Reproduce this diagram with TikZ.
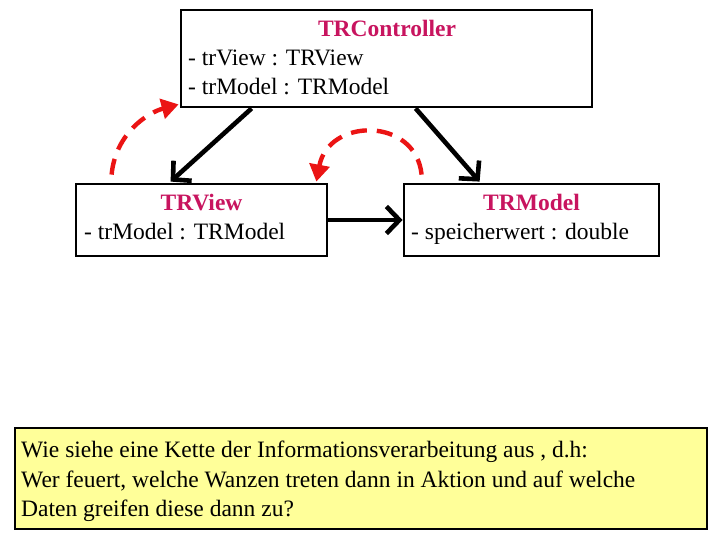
\documentclass[tikz,border=0pt]{standalone}
\usepackage{fontspec}
\setmainfont{Liberation Serif}
\usetikzlibrary{arrows.meta,calc}
\definecolor{titlecol}{RGB}{200,20,95}
\definecolor{notefill}{RGB}{255,255,153}
\definecolor{dashred}{RGB}{235,20,20}
\begin{document}
\begin{tikzpicture}[x=1pt,y=-1pt,
  umlbox/.style={draw=black,line width=2.8pt,fill=white,inner sep=0pt,rectangle},
  notebox/.style={draw=black,line width=1.2pt,fill=notefill,inner sep=0pt,rectangle},
  txt/.style={inner sep=0pt,anchor=base west,font=\fontsize{23.5}{28}\selectfont},
  ttl/.style={inner sep=0pt,anchor=base,font=\fontsize{23.5}{28}\selectfont\bfseries,text=titlecol},
  assoc/.style={line width=4.6pt,-{Straight Barb[length=13pt,width=27pt,line width=4.6pt]}},
  call/.style={line width=4.4pt,draw=dashred,dash pattern=on 16pt off 10pt,
    -{Triangle[length=17pt,width=20pt,fill=dashred]}}]
\useasboundingbox (0,0) rectangle (720,540);
\fill[white] (0,0) rectangle (720,540);
% boxes
\node[umlbox,minimum width=411,minimum height=97] (ctrl) at (386.5,58.5) {};
\node[umlbox,minimum width=251,minimum height=72] (view) at (201.5,220) {};
\node[umlbox,minimum width=255,minimum height=72] (model) at (531.5,220) {};
\node[notebox,minimum width=692,minimum height=101] (note) at (361,478.5) {};
% texts
\node[ttl] (ctrlT) at (387,37) {TRController};
\node[txt] (ctrlA) at (188,66) {- trView : TRView};
\node[txt] (ctrlB) at (188,95) {- trModel : TRModel};
\node[ttl] (viewT) at (201.5,211) {TRView};
\node[txt] (viewA) at (84,240) {- trModel : TRModel};
\node[ttl] (modelT) at (531.5,211) {TRModel};
\node[txt] (modelA) at (411,240) {- speicherwert : double};
\node[txt] (n1) at (21,457) {Wie siehe eine Kette der Informationsverarbeitung aus , d.h:};
\node[txt] (n2) at (21,487) {Wer feuert, welche Wanzen treten dann in Aktion und auf welche};
\node[txt] (n3) at (21,516) {Daten greifen diese dann zu?};
% associations
\draw[assoc] ($(ctrl.south west)+(72,0)$) -- ($(view.north west)+(96,-1)$);
\draw[assoc] ($(ctrl.south west)+(236,0)$) -- ($(model.north west)+(77,-1)$);
\draw[assoc] (view.east) -- (model.west);
% calls
\coordinate (c1s) at ($(view.north west)+(37,-8)$);
\coordinate (c1e) at ($(ctrl.south west)+(-1,-4)$);
\draw[call] (c1s) .. controls ($(c1s)+(4,-42)$) and ($(c1e)+(-30,8)$) .. (c1e);
\coordinate (c2s) at ($(model.north west)+(19,-8)$);
\coordinate (c2e) at ($(view.north east)+(-12,-1)$);
\draw[call] (c2s) .. controls ($(c2s)+(-6,-58)$) and ($(c2e)+(12,-64)$) .. (c2e);
\end{tikzpicture}
\end{document}
